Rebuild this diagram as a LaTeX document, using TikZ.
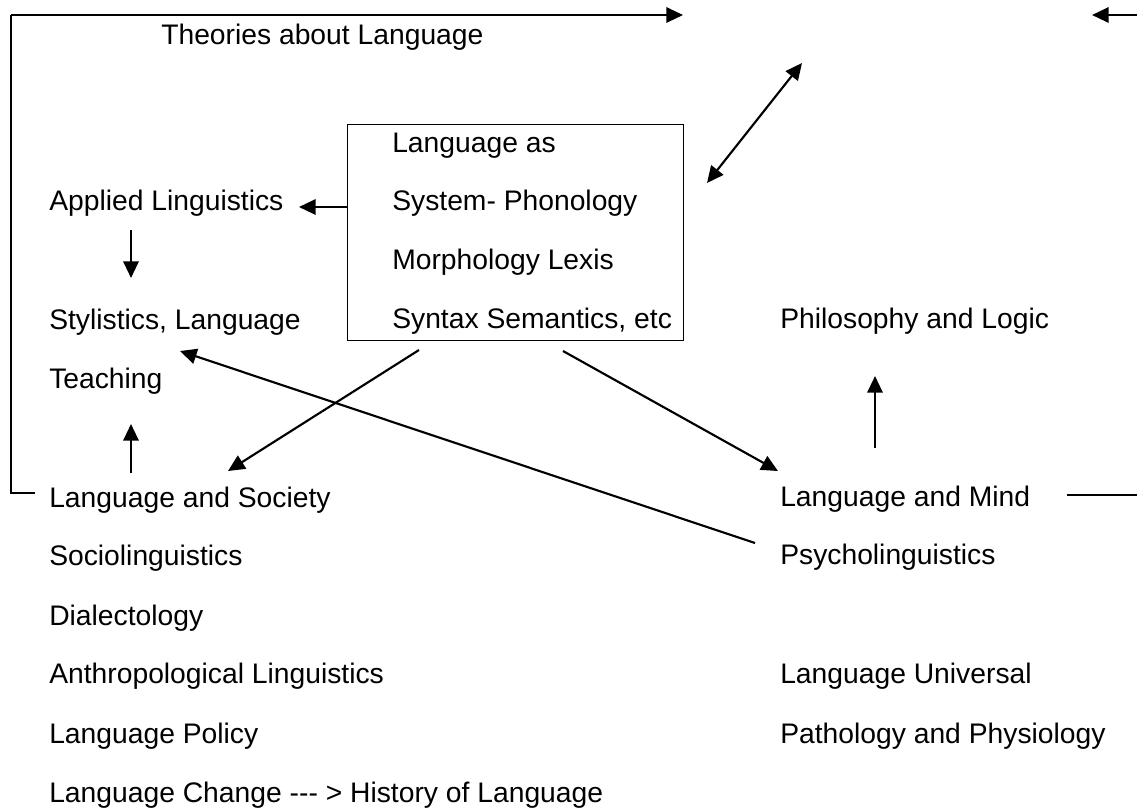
\documentclass[tikz,border=0pt]{standalone}
\usepackage{fontspec}
\setmainfont{Liberation Sans}
\usetikzlibrary{arrows.meta}
\tikzset{
  lbl/.style={anchor=base west, inner sep=0pt, font=\fontsize{21.2pt}{24pt}\selectfont},
  arr/.style={line width=1.6pt, -{Triangle[length=12.5pt,width=11.5pt]}},
  dblarr/.style={line width=1.6pt, {Triangle[length=12.5pt,width=11.5pt]}-{Triangle[length=12.5pt,width=11.5pt]}},
  plainline/.style={line width=1pt}
}

\begin{document}
\begin{tikzpicture}[x=0.75pt,y=-0.75pt]
\useasboundingbox (0,0) rectangle (1137,810);

% Title line
\node[lbl] (theo) at (161,44) {Theories about Language};
\coordinate (frameTL) at (11,15);
\coordinate (frameBL) at (35,493);
\coordinate (topTip) at (683,15);
\coordinate (rightEnd) at (1137,15);
\coordinate (rightTip) at (1092,15);
\draw[plainline] (frameTL) |- (frameBL);
\draw[arr] (frameTL) -- (topTip);
\draw[arr] (rightEnd) -- (rightTip);

% Central box
\node[draw, line width=1.1pt, inner sep=0pt, minimum width=252pt, minimum height=162pt, anchor=north west] (sys) at (347,124) {};
\node[lbl] (sys1) at (392,152) {Language as};
\node[lbl] (sys2) at (392,210) {System- Phonology};
\node[lbl] (sys3) at (392,269) {Morphology Lexis};
\node[lbl] (sys4) at (392,328) {Syntax Semantics, etc};

% Left column
\node[lbl] (appl) at (49,210) {Applied Linguistics};
\node[lbl] (styl) at (49,329) {Stylistics, Language};
\node[lbl] (teach) at (49,388) {Teaching};
\node[lbl] (soc) at (49,507) {Language and Society};
\node[lbl] (socio) at (49,565) {Sociolinguistics};
\node[lbl] (dial) at (49,625) {Dialectology};
\node[lbl] (anth) at (49,683) {Anthropological Linguistics};
\node[lbl] (pol) at (49,743) {Language Policy};
\node[lbl] (hist) at (49,802) {Language Change -{}-{}- > History of Language};

% Right column
\node[lbl] (phil) at (780,328) {Philosophy and Logic};
\node[lbl] (mind) at (780,506) {Language and Mind};
\node[lbl] (psy) at (780,564) {Psycholinguistics};
\node[lbl] (univ) at (780,683) {Language Universal};
\node[lbl] (path) at (780,743) {Pathology and Physiology};

% Arrow ends
\coordinate (applTip) at (299,207);
\coordinate (downA) at (131,230);
\coordinate (downB) at (131,278);
\coordinate (upA) at (131,473);
\coordinate (upB) at (131,424);
\coordinate (socFrom) at (419,350);
\coordinate (socTip) at (228,471);
\coordinate (mindFrom) at (563,351);
\coordinate (mindTip) at (778,471);
\coordinate (psyFrom) at (755,543);
\coordinate (stylTip) at (180,351);
\coordinate (philA) at (875,448);
\coordinate (philB) at (875,376);
\coordinate (dblA) at (707,183);
\coordinate (dblB) at (802,63);
\coordinate (mindLineA) at (1067,495);
\coordinate (mindLineB) at (1137,495);

% Connectors
\draw[arr] (sys.west |- applTip) -- (applTip);
\draw[arr] (downA) -- (downB);
\draw[arr] (upA) -- (upB);
\draw[arr] (socFrom) -- (socTip);
\draw[arr] (mindFrom) -- (mindTip);
\draw[arr] (psyFrom) -- (stylTip);
\draw[arr] (philA) -- (philB);
\draw[dblarr] (dblA) -- (dblB);
\draw[plainline] (mindLineA) -- (mindLineB);
\end{tikzpicture}
\end{document}
